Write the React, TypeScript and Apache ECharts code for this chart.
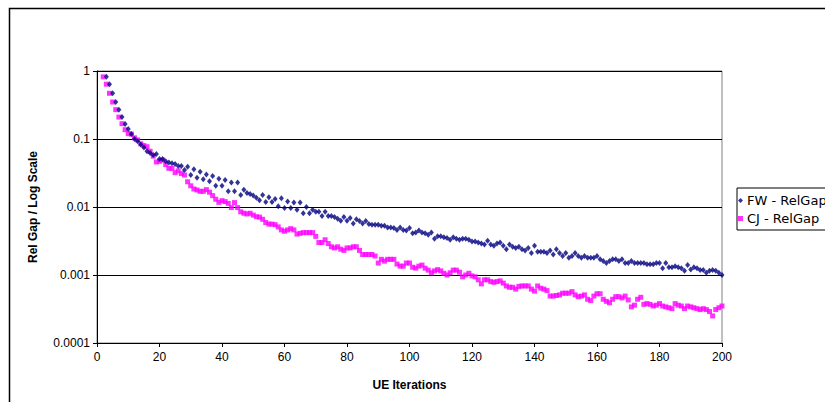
import React, { useEffect, useRef } from "react";
import * as echarts from "echarts";

const xTicks = [0, 20, 40, 60, 80, 100, 120, 140, 160, 180, 200];
const yTickLabels = ["0.0001", "0.001", "0.01", "0.1", "1"];

const fwStart = 3;
const fwValues = [
  0.82, 0.64, 0.47, 0.35, 0.27, 0.21, 0.166, 0.14, 0.118, 0.1,
  0.093, 0.083, 0.075, 0.066, 0.062, 0.058, 0.06, 0.051, 0.051, 0.047,
  0.045, 0.044, 0.043, 0.04, 0.04, 0.035, 0.039, 0.0295, 0.036, 0.027,
  0.033, 0.0255, 0.03, 0.024, 0.0285, 0.0205, 0.026, 0.0205, 0.025, 0.017,
  0.023, 0.017, 0.023, 0.015, 0.018, 0.016, 0.0155, 0.0147, 0.0137, 0.0126,
  0.015, 0.0118, 0.0139, 0.0118, 0.0131, 0.0103, 0.0135, 0.0097, 0.012, 0.0097,
  0.0116, 0.0091, 0.0116, 0.0081, 0.01, 0.0081, 0.0091, 0.0085, 0.0085, 0.0074,
  0.0085, 0.0074, 0.0074, 0.0071, 0.0067, 0.0063, 0.0071, 0.0063, 0.0069, 0.0057,
  0.0066, 0.0062, 0.0057, 0.0062, 0.0056, 0.0055, 0.0055, 0.0055, 0.0053, 0.0053,
  0.005, 0.005, 0.0049, 0.0046, 0.005, 0.0046, 0.0045, 0.0049, 0.0041, 0.0042,
  0.0045, 0.0042, 0.0041, 0.0039, 0.0042, 0.0034, 0.0037, 0.0037, 0.0036, 0.0035,
  0.0033, 0.0036, 0.0034, 0.0033, 0.0034, 0.0034, 0.0033, 0.0031, 0.0031, 0.003,
  0.0029, 0.0028, 0.0032, 0.0028, 0.0027, 0.0029, 0.003, 0.0027, 0.0024, 0.0028,
  0.0026, 0.0025, 0.0026, 0.0024, 0.0023, 0.0025, 0.0021, 0.0027, 0.0022, 0.0022,
  0.0022, 0.0021, 0.0023, 0.002, 0.0024, 0.0021, 0.0019, 0.0021, 0.0018, 0.0019,
  0.0021, 0.0019, 0.0018, 0.0019, 0.0018, 0.0018, 0.0018, 0.0019, 0.0017, 0.0016,
  0.0015, 0.0016, 0.0017, 0.0017, 0.0016, 0.0017, 0.0015, 0.0015, 0.0016, 0.0015,
  0.0015, 0.0015, 0.0015, 0.00144, 0.00144, 0.00144, 0.0015, 0.0015, 0.00126, 0.0015,
  0.0013, 0.0013, 0.00135, 0.0013, 0.00126, 0.00115, 0.0014, 0.0012, 0.0013, 0.00126,
  0.00118, 0.00118, 0.00108, 0.00115, 0.00118, 0.00115, 0.00108, 0.001, 0.00115,
];

const cjStart = 2;
const cjValues = [
  0.82, 0.64, 0.47, 0.35, 0.27, 0.21, 0.168, 0.137, 0.12, 0.118,
  0.104, 0.097, 0.085, 0.08, 0.077, 0.066, 0.056, 0.046, 0.047, 0.049,
  0.042, 0.037, 0.037, 0.032, 0.034, 0.031, 0.0295, 0.0235, 0.0205, 0.0184,
  0.0178, 0.017, 0.017, 0.018, 0.0165, 0.0147, 0.013, 0.0117, 0.0124, 0.012,
  0.0113, 0.0098, 0.0116, 0.0098, 0.0085, 0.0081, 0.0079, 0.0081, 0.0076, 0.0072,
  0.0071, 0.0066, 0.0059, 0.0056, 0.0056, 0.0055, 0.0051, 0.0046, 0.0044, 0.0046,
  0.0048, 0.0046, 0.004, 0.0041, 0.0042, 0.0042, 0.0042, 0.0042, 0.0037, 0.003,
  0.003, 0.0033, 0.0029, 0.0026, 0.0025, 0.0026, 0.0024, 0.0023, 0.0025, 0.0025,
  0.0026, 0.0026, 0.0023, 0.002, 0.002, 0.002, 0.002, 0.0019, 0.0015, 0.0017,
  0.0016, 0.0017, 0.0017, 0.0017, 0.00145, 0.00135, 0.00135, 0.0015, 0.0015, 0.0013,
  0.00126, 0.00135, 0.0014, 0.00126, 0.00118, 0.00108, 0.00115, 0.0012, 0.00115, 0.00106,
  0.001, 0.00108, 0.00118, 0.00118, 0.0011, 0.00094, 0.001, 0.00106, 0.00097, 0.00094,
  0.00085, 0.00074, 0.00085, 0.00085, 0.0008, 0.00078, 0.0008, 0.00082, 0.00076, 0.00069,
  0.00066, 0.00066, 0.00062, 0.00068, 0.00069, 0.00069, 0.00069, 0.00062, 0.00058, 0.00069,
  0.00064, 0.00062, 0.00059, 0.00049, 0.00049, 0.0005, 0.00051, 0.00054, 0.00054, 0.00054,
  0.00057, 0.00051, 0.00048, 0.00049, 0.00051, 0.00044, 0.00042, 0.00049, 0.00053, 0.00053,
  0.00044, 0.00041, 0.00039, 0.00044, 0.00048, 0.00048, 0.00046, 0.00049, 0.00043, 0.00034,
  0.00036, 0.00044, 0.00047, 0.00037, 0.00038, 0.00037, 0.00035, 0.00036, 0.00038, 0.00035,
  0.00034, 0.00033, 0.00032, 0.00038, 0.00036, 0.00035, 0.00032, 0.00035, 0.00034, 0.00033,
  0.00032, 0.00031, 0.00032, 0.00031, 0.00029, 0.00025, 0.00031, 0.00033, 0.00035,
];

const seriesNames = ["FW - RelGap", "CJ - RelGap"];
const xTitle = "UE Iterations";
const yTitle = "Rel Gap / Log Scale";

export default function App() {
  const ref = useRef<HTMLDivElement>(null);
  useEffect(() => {
    if (!ref.current) return;
    const chart = echarts.init(ref.current, null, { renderer: "svg" });
    const fwData = fwValues.map((v, i) => [fwStart + i, v]);
    const cjData = cjValues.map((v, i) => [cjStart + i, v]);
    const font = "Liberation Sans, Arial, sans-serif";
    chart.setOption({
      animation: false,
      backgroundColor: "#ffffff",
      textStyle: { fontFamily: font },
      graphic: [
        {
          type: "rect",
          shape: { x: 9.5, y: 8.5, width: 900, height: 500 },
          style: { fill: "none", stroke: "#000", lineWidth: 1.5 },
          silent: true,
          z: -1,
        },
      ],
      grid: {
        left: 97,
        top: 71,
        width: 625,
        height: 272,
        show: true,
        borderColor: "#808080",
        borderWidth: 1,
        backgroundColor: "transparent",
      },
      legend: {
        orient: "vertical",
        left: 737,
        top: 188,
        padding: [6, 60, 5, 1],
        itemWidth: 5,
        itemHeight: 5,
        itemGap: 5,
        backgroundColor: "#fff",
        borderColor: "#000",
        borderWidth: 1,
        borderRadius: 0,
        textStyle: {
          fontSize: 13,
          color: "#000",
          fontFamily: "DejaVu Sans, sans-serif",
          padding: [0, 0, 0, -1],
          lineHeight: 12,
        },
        data: seriesNames,
      },
      xAxis: {
        type: "value",
        min: 0,
        max: 200,
        interval: 20,
        name: xTitle,
        nameLocation: "middle",
        nameGap: 36,
        nameTextStyle: { fontWeight: "bold", fontSize: 12, color: "#000" },
        axisLine: { lineStyle: { color: "#000", width: 1 } },
        axisTick: { show: true, inside: false, length: 4, lineStyle: { color: "#000" } },
        axisLabel: {
          color: "#000",
          fontSize: 12,
          margin: 8,
          formatter: (v: number) => (xTicks.includes(v) ? String(v) : ""),
        },
        splitLine: { show: false },
      },
      yAxis: {
        type: "log",
        logBase: 10,
        min: 0.0001,
        max: 1,
        name: yTitle,
        nameLocation: "middle",
        nameGap: 58,
        nameRotate: 90,
        nameTextStyle: { fontWeight: "bold", fontSize: 12, color: "#000" },
        axisLine: { show: true, lineStyle: { color: "#000", width: 1 } },
        axisTick: { show: true, inside: false, length: 4, lineStyle: { color: "#000" } },
        axisLabel: {
          color: "#000",
          fontSize: 12,
          margin: 7,
          formatter: (v: number) => {
            const idx = Math.round(Math.log10(v)) + 4;
            return yTickLabels[idx] ?? "";
          },
        },
        splitLine: { show: true, lineStyle: { color: "#000", width: 1 } },
      },
      series: [
        {
          name: seriesNames[0],
          type: "scatter",
          symbol: "diamond",
          symbolSize: [5, 6],
          itemStyle: { color: "#000080" },
          data: fwData,
          z: 3,
        },
        {
          name: seriesNames[1],
          type: "scatter",
          symbol: "rect",
          symbolSize: 5,
          itemStyle: { color: "#ff00ff" },
          data: cjData,
          z: 2,
        },
      ],
    });
    return () => chart.dispose();
  }, []);
  return (
    <div
      ref={ref}
      style={{ position: "fixed", left: 0, top: 0, width: 825, height: 402 }}
    />
  );
}
